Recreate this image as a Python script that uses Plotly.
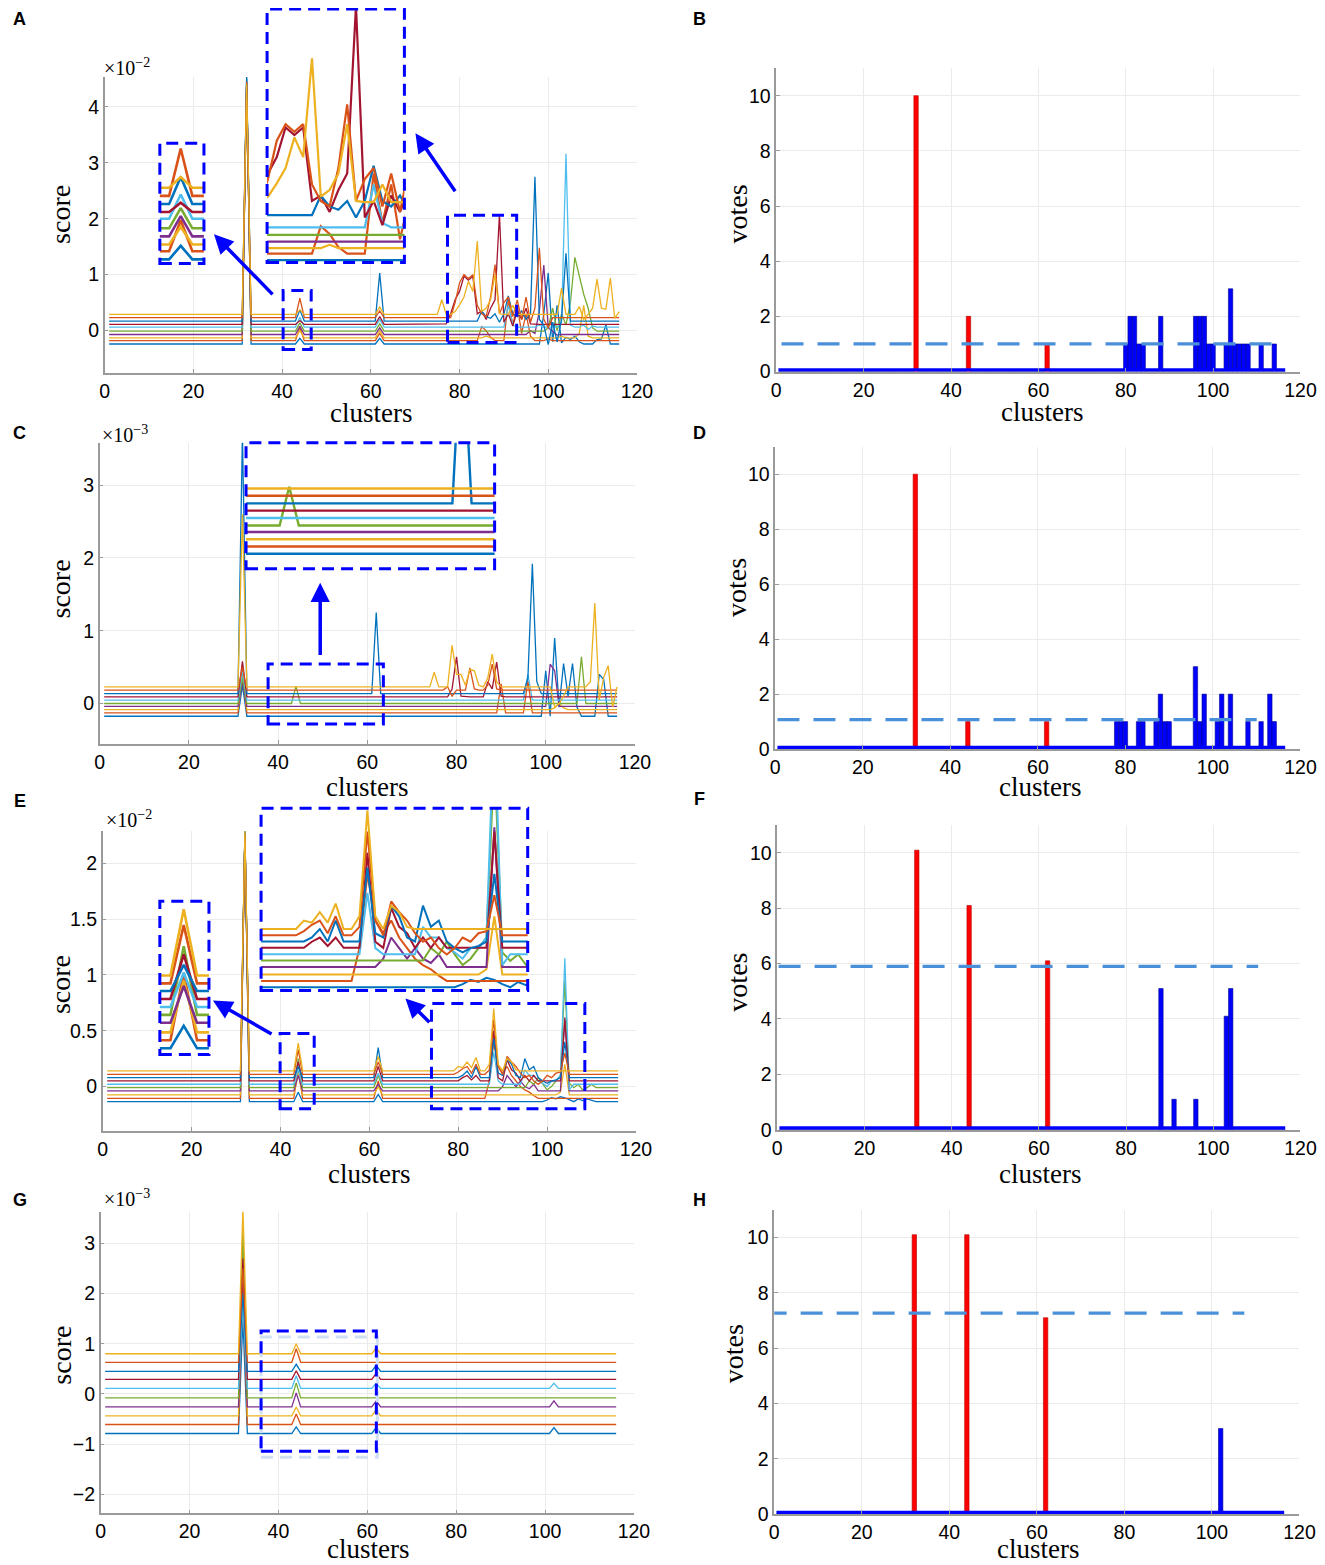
import plotly.graph_objects as go

# Positions below are given in reference-image pixels (1325 x 1565) and mapped onto the figure
# with the page-to-screenshot transform observed for this renderer.
SX, OX = 0.982, 13.5
SY, OY = 0.9915, 8.0
W, H = 1336, 1570
clusters = list(range(1, 117))
series_colors = ['#0072BD', '#D95319', '#EDB120', '#7E2F8E', '#77AC30',
                 '#4DBEEE', '#A2142F', '#0072BD', '#D95319', '#EDB120']

# ---------------- score data (x1e-2 / x1e-3): each series = its flat level + the readings where it departs
A_offsets = [-0.24, -0.18, -0.13, -0.07, -0.01, 0.06, 0.11, 0.17, 0.23, 0.29]
A_readings = [
    {32: 4.50, 44: -0.14, 62: -0.14, 99: 0.30, 100: 1.03, 101: -0.20, 102: 0.45, 103: -0.22, 104: -0.12,
     105: -0.16, 106: -0.10, 107: -0.20, 111: -0.16, 112: -0.15, 113: 0.10},
    {32: 4.40, 44: 0.05, 62: -0.05, 85: 0.07, 86: 0.00, 87: -0.12, 91: 0.55, 92: 0.10, 93: 0.45, 94: -0.05,
     95: 0.30, 96: -0.10, 100: -0.15},
    {32: 4.35, 44: 0.00, 62: 0.00, 86: -0.10, 103: -0.10, 107: -0.05, 108: 0.45, 109: -0.10},
    {32: 4.40, 44: 0.08, 62: 0.05, 96: 0.00, 97: -0.05, 98: 0.35, 99: 1.17, 100: 0.05, 101: -0.02, 102: -0.08},
    {32: 4.42, 44: 0.14, 62: 0.12, 100: 0.05, 101: 0.40, 102: 0.00, 103: 0.30, 104: 0.10, 105: 0.50,
     106: 1.31, 107: 1.00, 108: 0.65, 109: 0.40, 110: 0.05},
    {32: 4.50, 44: 0.24, 62: 0.20, 91: 0.45, 92: 0.10, 98: 0.10, 103: 0.15, 104: 3.16, 105: 0.10,
     108: 0.10, 109: 0.02, 110: 0.08},
    {32: 4.40, 44: 0.18, 62: 0.25, 77: 0.12, 78: 0.30, 79: 0.55, 80: 0.70, 81: 0.97, 82: 0.90, 83: 0.97,
     84: 0.30, 85: 0.35, 86: 0.20, 87: 0.40, 88: 0.55, 89: 2.08, 90: 0.15, 91: 0.30, 92: 0.08, 93: 0.35,
     94: 0.20, 95: 0.40, 96: 0.12},
    {32: 4.55, 44: 0.37, 62: 1.03, 85: 0.35, 86: 0.25, 87: 0.22, 88: 0.30, 89: 0.15, 90: 0.30, 91: 0.62,
     92: 0.30, 93: 0.25, 94: 0.35, 95: 0.20, 96: 0.30, 97: 2.75, 98: 0.20, 99: 0.10, 100: -0.25, 101: 0.15,
     102: -0.20, 103: 0.20, 104: 1.38},
    {32: 4.45, 44: 0.58, 62: 0.35, 79: 0.50, 80: 0.85, 81: 1.00, 82: 0.93, 83: 1.00, 84: 0.45, 85: 0.30,
     86: 0.25, 87: 0.60, 88: 1.18, 89: 0.30, 90: 0.50, 91: 0.60, 92: 0.25, 93: 0.55, 94: 0.20, 95: 0.60,
     96: 0.15, 97: 0.40, 98: 1.48, 99: 0.20, 100: 0.05},
    {32: 4.40, 44: 0.37, 62: 0.42, 76: 0.55, 79: 0.34, 80: 0.46, 81: 0.60, 82: 0.88, 83: 0.70, 84: 1.60,
     85: 0.34, 86: 0.40, 87: 0.55, 88: 1.00, 89: 0.30, 92: 0.45, 103: 0.76, 107: 0.43, 108: 0.20, 110: 0.40,
     111: 0.92, 112: 0.40, 113: 0.38, 114: 0.94, 115: 0.22, 116: 0.34},
]

C_offsets = [-0.175, -0.13, -0.085, -0.04, 0.0, 0.047, 0.092, 0.137, 0.184, 0.229]
C_readings = [
    {32: 0.25, 100: 0.45, 101: -0.175, 102: 0.90, 103: -0.05, 104: 0.55, 105: 0.10, 106: 0.55, 107: -0.05,
     112: 0.40, 113: 0.33},
    {32: 0.40, 90: 0.27, 96: 0.31},
    {32: 0.40, 102: -0.06, 103: 0.00, 104: -0.06},
    {32: 0.30, 101: 0.54, 102: 0.45},
    {32: 0.35, 44: 0.24, 108: 0.64},
    {32: 0.45, 96: 0.40},
    {32: 0.58, 79: 0.20, 80: 0.64, 81: 0.10, 87: 0.30, 88: 0.20, 89: 0.57, 90: 0.10},
    {32: 3.70, 62: 1.25, 96: 0.35, 97: 1.92, 98: 0.30},
    {32: 0.50, 78: 0.23, 79: 0.10, 83: 0.49, 84: 0.20, 87: 0.25, 88: 0.54, 89: 0.20},
    {32: 2.60, 75: 0.43, 79: 0.80, 80: 0.40, 81: 0.40, 82: 0.25, 83: 0.47, 84: 0.45, 85: 0.25, 87: 0.35,
     88: 0.68, 89: 0.30, 102: -0.05, 103: 0.00, 104: 0.10, 110: 0.30, 111: 1.38, 112: 0.05, 113: 0.36,
     114: 0.52, 115: -0.05},
]

E_offsets = [-0.135, -0.105, -0.075, -0.039, -0.009, 0.021, 0.051, 0.081, 0.110, 0.140]
E_readings = [
    {32: 2.28, 44: -0.05, 62: -0.07, 100: -0.12, 101: -0.10, 102: -0.11, 103: -0.09, 104: -0.10, 105: -0.12,
     107: -0.11, 108: -0.125, 109: -0.11, 110: -0.12},
    {32: 2.25, 44: 0.15, 62: 0.05, 87: 0.05, 88: 0.40, 89: 0.18, 90: 0.12, 91: 0.18, 92: 0.10, 93: 0.05,
     94: 0.00, 95: -0.03, 96: -0.05, 97: -0.08},
    {32: 2.30, 44: 0.12, 62: 0.00, 103: -0.05, 104: 0.20},
    {32: 2.27, 44: 0.10, 62: 0.02, 90: 0.00, 91: 0.10, 92: 0.05, 93: 0.00, 94: 0.05, 95: 0.00, 96: -0.02,
     97: 0.02, 104: 0.62},
    {32: 2.26, 44: 0.25, 62: 0.10, 96: 0.05, 97: 0.02, 98: 0.08, 99: 0.02, 100: -0.03, 101: 0.00, 102: 0.05,
     103: 0.10, 104: 0.95, 105: 0.03, 106: -0.01, 107: 0.02, 108: -0.03, 110: 0.02},
    {32: 2.28, 44: 0.15, 62: 0.12, 88: 0.31, 89: 0.05, 95: 0.15, 96: 0.10, 97: 0.10, 98: 0.05, 99: 0.03,
     100: 0.00, 101: 0.05, 102: 0.05, 103: 0.10, 104: 1.15, 105: -0.03},
    {32: 2.27, 44: 0.22, 62: 0.18, 81: 0.08, 82: 0.10, 83: 0.06, 84: 0.10, 88: 0.50, 89: 0.08, 91: 0.24,
     92: 0.15, 93: 0.12, 95: 0.10, 97: 0.10, 104: 0.60},
    {32: 2.29, 44: 0.18, 62: 0.35, 81: 0.10, 82: 0.14, 84: 0.18, 88: 0.43, 89: 0.12, 90: 0.10, 91: 0.25,
     92: 0.20, 93: 0.10, 95: 0.25, 96: 0.15, 97: 0.18, 99: 0.05, 100: 0.03, 101: 0.05, 102: 0.06, 104: 0.40},
    {32: 2.26, 44: 0.33, 62: 0.22, 80: 0.13, 81: 0.16, 82: 0.18, 83: 0.12, 84: 0.20, 87: 0.15, 88: 0.60,
     89: 0.18, 91: 0.27, 92: 0.22, 93: 0.18, 94: 0.12, 95: 0.08, 96: 0.10, 97: 0.05, 98: 0.02, 99: 0.05,
     100: 0.10, 101: 0.08, 102: 0.12, 103: 0.13, 104: 0.30},
    {32: 2.30, 44: 0.39, 62: 0.27, 80: 0.18, 81: 0.17, 82: 0.22, 83: 0.17, 84: 0.26, 87: 0.20, 88: 0.70,
     89: 0.20, 91: 0.25, 92: 0.22, 93: 0.15},
]

G_offsets = [-0.79, -0.61, -0.44, -0.26, -0.08, 0.11, 0.29, 0.45, 0.63, 0.80]
G_readings = [
    {32: 1.5, 44: -0.66, 62: -0.67, 102: -0.67},
    {32: 2.2, 44: -0.40},
    {32: 3.3, 44: -0.26, 62: -0.32},
    {32: 2.3, 44: 0.02, 62: -0.14, 102: -0.14},
    {32: 3.2, 44: 0.22},
    {32: 1.8, 44: 0.36, 62: 0.21, 102: 0.21},
    {32: 2.7, 44: 0.46, 62: 0.41},
    {32: 2.0, 44: 0.59, 62: 0.57},
    {32: 2.5, 44: 0.90},
    {32: 3.7, 44: 1.00, 62: 0.92},
]

# ---------------- votes data
B_selected = [32, 44, 62]
B_votes = {32: 10, 44: 2, 62: 1, 80: 1, 81: 2, 82: 2, 83: 1, 84: 1, 88: 2, 96: 2, 97: 2, 98: 2, 99: 1,
           100: 1, 103: 1, 104: 3, 105: 1, 106: 1, 107: 1, 108: 1, 111: 1, 114: 1}
B_threshold, B_span = 1.0, (1.2, 116.2)

D_selected = [32, 44, 62]
D_votes = {32: 10, 44: 1, 62: 1, 78: 1, 79: 1, 80: 1, 83: 1, 84: 1, 87: 1, 88: 2, 89: 1, 90: 1, 96: 3,
           97: 1, 98: 2, 101: 1, 102: 2, 104: 2, 108: 1, 111: 1, 113: 2, 114: 1}
D_threshold, D_span = 1.07, (0.5, 110)

F_selected = [32, 44, 62]
F_votes = {32: 10.1, 44: 8.1, 62: 6.1, 88: 5.1, 91: 1.1, 96: 1.1, 103: 4.1, 104: 5.1}
F_threshold, F_span = 5.9, (0.3, 110.3)

H_selected = [32, 44, 62]
H_votes = {32: 10.1, 44: 10.1, 62: 7.1, 102: 3.1}
H_threshold, H_span = 7.27, (-2.2, 107.4)

x_ticks = [0, 20, 40, 60, 80, 100, 120]
vote_ticks = [0, 2, 4, 6, 8, 10]


def build_series(offsets, readings):
    out = []
    for off, rd in zip(offsets, readings):
        y = [off] * len(clusters)
        for c, v in rd.items():
            y[c - 1] = v
        out.append(y)
    return out


A_series = build_series(A_offsets, A_readings)
C_series = build_series(C_offsets, C_readings)
E_series = build_series(E_offsets, E_readings)
G_series = build_series(G_offsets, G_readings)

# ---------------- layout helpers
SANS = 'Liberation Sans, Arial, sans-serif'
SERIF = 'Liberation Serif, Times New Roman, serif'
AXC = '#9A9A9A'
GRID = '#EBEBEB'
BOXBLUE = '#0000FF'


def fx(px):
    return ((px - OX) / SX) / W


def fy(py):
    return 1 - ((py - OY) / SY) / H


def px_x(a, b):
    return [fx(a), fx(b)]


def px_y(top, bottom):
    return [fy(bottom), fy(top)]


layout = dict(width=W, height=H, autosize=False, margin=dict(l=0, r=0, t=0, b=0), paper_bgcolor='white',
              plot_bgcolor='white', showlegend=False, shapes=[], annotations=[])
traces = []
counter = [0]


def new_axes(xpx, ypx, xr, yr, yticks, ytext=None, inset=False):
    counter[0] += 1
    s = '' if counter[0] == 1 else str(counter[0])
    common = dict(zeroline=False, showgrid=True, gridcolor=GRID, gridwidth=1, fixedrange=True)
    if inset:
        extra = dict(showline=False, ticks='', showticklabels=False)
    else:
        extra = dict(showline=True, linecolor=AXC, linewidth=1.5, ticks='inside', ticklen=4,
                     tickcolor=AXC, tickfont=dict(family=SANS, size=19.5, color='black'))
    layout['xaxis' + s] = dict(domain=px_x(*xpx), range=list(xr), anchor='y' + s, tickvals=x_ticks,
                               **common, **extra)
    ya = dict(domain=px_y(*ypx), range=list(yr), anchor='x' + s, tickvals=yticks, **common, **extra)
    if ytext is not None:
        ya['ticktext'] = ytext
    layout['yaxis' + s] = ya
    return 'x' + s, 'y' + s


def add_lines(series, xa, ya, width):
    for y, col in zip(series, series_colors):
        traces.append(go.Scatter(x=clusters, y=y, mode='lines', line=dict(color=col, width=width),
                                 xaxis=xa, yaxis=ya, hoverinfo='skip'))


def box(xpx, ypx, color=BOXBLUE):
    x0, x1 = px_x(*xpx)
    y0, y1 = px_y(*ypx)
    layout['shapes'].append(dict(type='rect', xref='paper', yref='paper', x0=x0, x1=x1, y0=y0, y1=y1,
                                 line=dict(color=color, width=3, dash='12px,7px'), layer='above'))


def add_inset(series, xpx, ypx, xr, yr, yticks, width):
    xa, ya = new_axes(xpx, ypx, xr, yr, yticks, inset=True)
    traces.append(go.Scatter(x=[xr[0], xr[1], xr[1], xr[0], xr[0]], y=[yr[0], yr[0], yr[1], yr[1], yr[0]],
                             mode='lines', fill='toself', fillcolor='white', line=dict(width=0),
                             xaxis=xa, yaxis=ya, hoverinfo='skip'))
    add_lines(series, xa, ya, width)
    box(xpx, ypx)


def arrow(head, tail):
    layout['annotations'].append(dict(x=fx(head[0]), y=fy(head[1]), xref='paper', yref='paper',
                                      ax=(tail[0] - head[0]) / SX, ay=(tail[1] - head[1]) / SY, text='',
                                      showarrow=True, arrowhead=2, arrowsize=1.1, arrowwidth=3.5,
                                      arrowcolor=BOXBLUE))


def text(x, y, s, size, family, bold=False, angle=0, xanchor='center'):
    if bold:
        s = '<b>' + s + '</b>'
    layout['annotations'].append(dict(x=fx(x), y=fy(y), xref='paper', yref='paper', text=s,
                                      showarrow=False, font=dict(family=family, size=size, color='black'),
                                      textangle=angle, xanchor=xanchor, yanchor='middle'))


def votes_panel(xpx, ypx, votes, selected, thr, span):
    xa, ya = new_axes(xpx, ypx, (0, 120), (0, 11), vote_ticks)
    full = [votes.get(c, 0) for c in clusters]
    fill = ['#FF0000' if c in selected else '#0000FF' for c in clusters]
    edge = ['#B00000' if c in selected else '#00008C' for c in clusters]
    traces.append(go.Scatter(x=[clusters[0] - 0.5, clusters[-1] + 0.5], y=[0.06, 0.06], mode='lines',
                             line=dict(color='#0000FF', width=3.5), xaxis=xa, yaxis=ya, hoverinfo='skip'))
    traces.append(go.Bar(x=clusters, y=full, width=1, marker=dict(color=fill, line=dict(color=edge, width=0.6)),
                         xaxis=xa, yaxis=ya, hoverinfo='skip'))
    traces.append(go.Scatter(x=list(span), y=[thr, thr], mode='lines',
                             line=dict(color='#4A90D9', width=3.2, dash='22px,14px'),
                             xaxis=xa, yaxis=ya, hoverinfo='skip'))


# ---------------- main panels
xa, ya = new_axes((105, 636), (77, 372), (0, 120), (-0.75, 4.53), [0, 1, 2, 3, 4])
add_lines(A_series, xa, ya, 1.3)
votes_panel((775, 1298), (68, 371), B_votes, B_selected, B_threshold, B_span)
xa, ya = new_axes((100, 634), (442, 743), (0, 120), (-0.558, 3.585), [0, 1, 2, 3])
add_lines(C_series, xa, ya, 1.3)
votes_panel((774, 1298), (446, 748), D_votes, D_selected, D_threshold, D_span)
xa, ya = new_axes((103, 635), (830, 1129), (0, 120), (-0.395, 2.287), [0, 0.5, 1, 1.5, 2],
                  ['0', '0.5', '1', '1.5', '2'])
add_lines(E_series, xa, ya, 1.3)
votes_panel((776, 1298), (824, 1128), F_votes, F_selected, F_threshold, F_span)
xa, ya = new_axes((101, 633), (1210, 1511), (0, 120), (-2.38, 3.63), [-2, -1, 0, 1, 2, 3])
add_lines(G_series, xa, ya, 1.3)
votes_panel((773, 1297), (1208, 1512), H_votes, H_selected, H_threshold, H_span)

# ---------------- zoomed boxes, insets, arrows
box((283, 311), (290, 349))
box((447, 516), (215, 342))
add_inset(A_series, (160, 204), (143, 263), (42.2, 46.0), (-0.27, 0.62), [0, 1, 2, 3, 4], 2.6)
add_inset(A_series, (267, 404), (9, 262), (78.9, 94.5), (-0.26, 2.05), [0, 1, 2, 3, 4], 2.2)
arrow((214, 234), (273, 295))
arrow((415, 133), (455, 192))

box((268, 383), (663, 723))
add_inset(C_series, (246, 494), (442, 568), (39.5, 65.4), (-0.268, 0.513), [0, 1, 2, 3], 2.4)
arrow((320, 582), (320, 655))

box((280, 314), (1032, 1107))
box((431, 584), (1002, 1107))
add_inset(E_series, (160, 209), (900, 1053), (42.2, 45.9), (-0.159, 0.42), [0, 0.5, 1, 1.5, 2], 2.6)
add_inset(E_series, (261, 527), (807, 989), (74.6, 108.2), (-0.15, 0.71), [0, 0.5, 1, 1.5, 2], 2.0)
arrow((213, 999), (272, 1033))
arrow((405, 997), (430, 1022))

box((261, 377), (1335, 1455), color='#CFE0F3')
box((261, 376), (1329, 1449))

# ---------------- texts
for lab, x, y in [('A', 20, 19), ('B', 698, 19), ('C', 20, 432), ('D', 698, 432),
                  ('E', 20, 800), ('F', 698, 798), ('G', 20, 1198), ('H', 698, 1198)]:
    text(x, y, lab, 18, SANS, bold=True)

for s, x, y in [('×10<sup>−2</sup>', 102, 67), ('×10<sup>−3</sup>', 100, 433),
                ('×10<sup>−2</sup>', 104, 818), ('×10<sup>−3</sup>', 102, 1196)]:
    text(x, y, s, 20, SERIF, xanchor='left')

for x, y in [(61, 214), (61, 588), (61, 983), (61, 1353)]:
    text(x, y, 'score', 28, SERIF, angle=-90)
for x, y in [(736, 214), (736, 587), (736, 981), (732, 1352)]:
    text(x, y, 'votes', 28, SERIF, angle=-90)
for x, y in [(371, 412), (1040, 411), (367, 786), (1038, 786), (369, 1172), (1038, 1172),
             (368, 1547), (1036, 1547)]:
    text(x, y, 'clusters', 27, SERIF)

fig = go.Figure(data=traces, layout=layout)
fig.write_html('out.html')
